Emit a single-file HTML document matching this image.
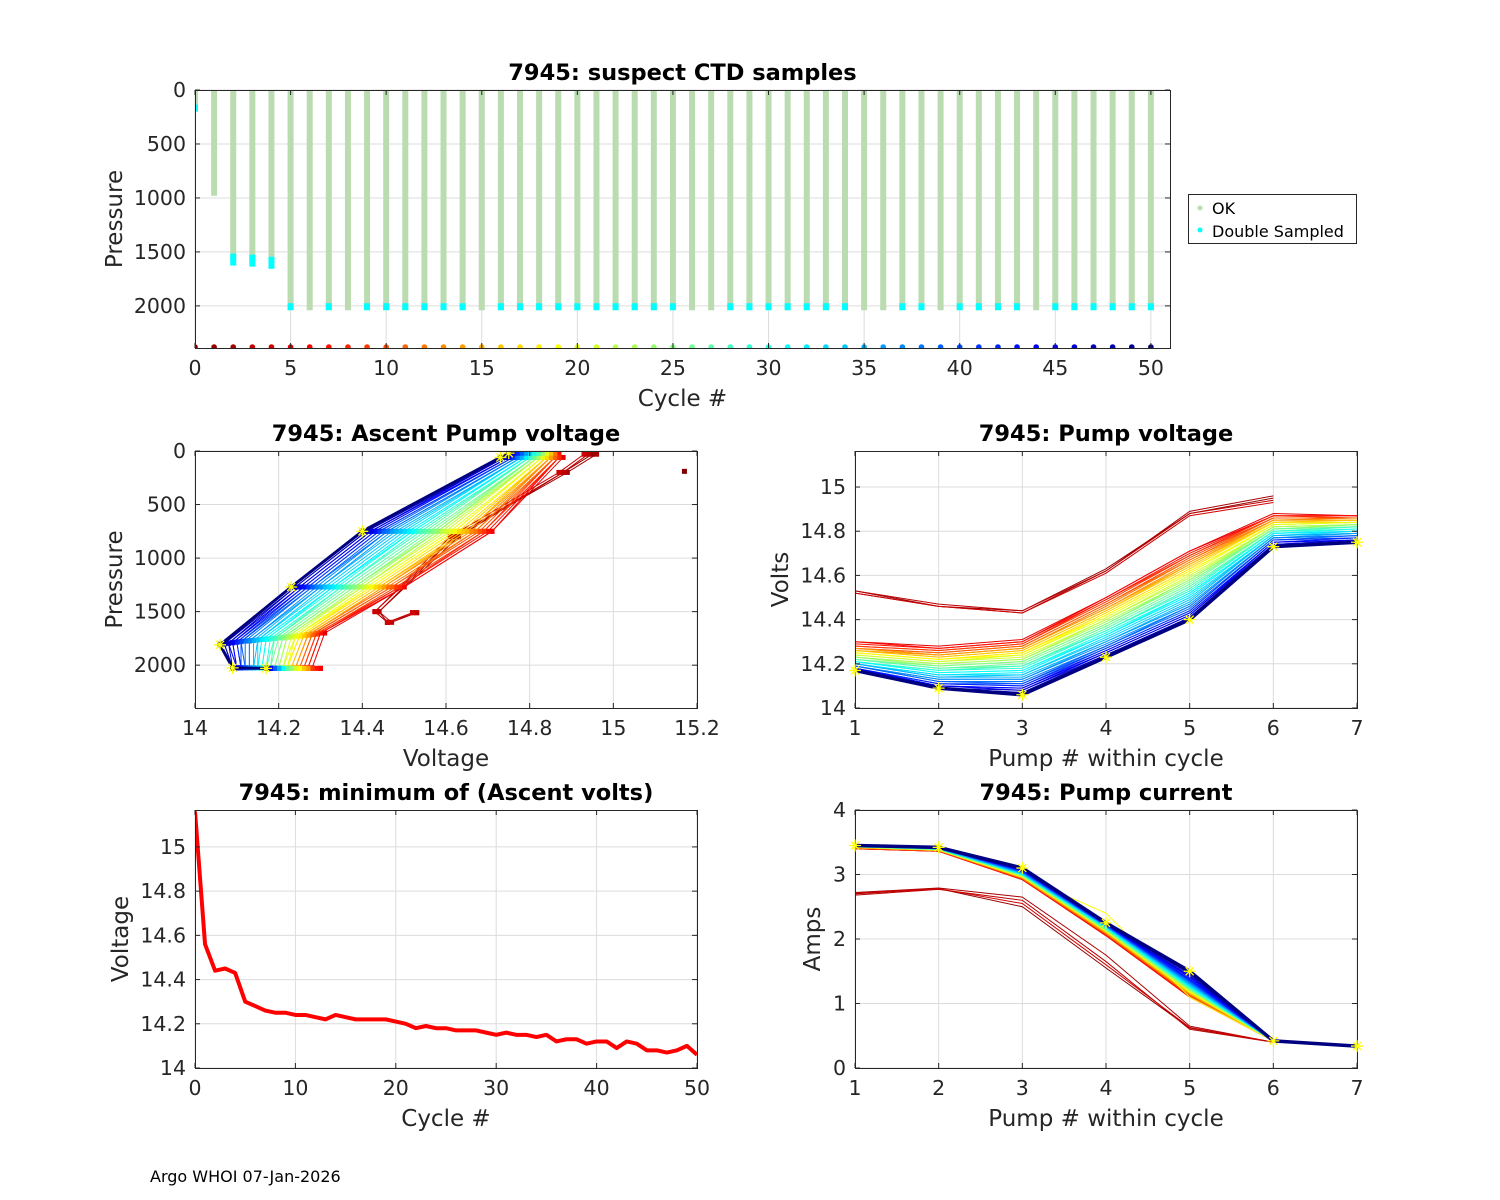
<!DOCTYPE html>
<html><head><meta charset="utf-8"><style>
body{margin:0;background:#fff;}
svg{display:block;font-family:"DejaVu Sans","Liberation Sans",sans-serif;}
</style></head><body>
<svg id="fig" width="1500" height="1200" viewBox="0 0 1500 1200"></svg>
<script>
const cycles=[];for(let i=0;i<=50;i++)cycles.push(i);
const maxPres=[200,980,1580,1590,1610,2040,2040,2040,2040,2040,2040,2040,2040,2040,2040,2040,2040,2040,2040,2040,2040,2040,2040,2040,2040,2040,2040,2040,2040,2040,2040,2040,2040,2040,2040,2040,2040,2040,2040,2040,2040,2040,2040,2040,2040,2040,2040,2040,2040,2040,2040];
const doubleSampled=[1,0,1,1,1,1,0,1,0,1,1,1,1,1,1,0,1,1,1,1,1,1,1,1,1,1,0,0,1,1,1,1,1,1,1,0,0,1,1,0,1,1,1,1,0,1,1,1,1,1,1];
const minVolt=[15.16,14.56,14.44,14.45,14.43,14.30,14.28,14.26,14.25,14.25,14.24,14.24,14.23,14.22,14.24,14.23,14.22,14.22,14.22,14.22,14.21,14.20,14.18,14.19,14.18,14.18,14.17,14.17,14.17,14.16,14.15,14.16,14.15,14.15,14.14,14.15,14.12,14.13,14.13,14.11,14.12,14.12,14.09,14.12,14.11,14.08,14.08,14.07,14.08,14.10,14.06];
const v1=[null,14.53,14.52,14.53,14.52,14.30,14.30,14.29,14.28,14.28,14.27,14.27,14.27,14.26,14.27,14.26,14.26,14.25,14.25,14.25,14.24,14.24,14.23,14.23,14.23,14.22,14.22,14.22,14.21,14.21,14.21,14.21,14.20,14.20,14.20,14.20,14.19,14.19,14.19,14.19,14.18,14.18,14.18,14.18,14.18,14.17,14.17,14.17,14.17,14.17,14.17];
const v2=[null,14.46,14.46,14.47,14.46,14.28,14.27,14.27,14.26,14.26,14.25,14.25,14.24,14.24,14.24,14.23,14.23,14.22,14.22,14.22,14.21,14.21,14.20,14.20,14.19,14.19,14.18,14.18,14.17,14.17,14.16,14.16,14.15,14.15,14.14,14.14,14.13,14.13,14.12,14.12,14.11,14.11,14.11,14.10,14.10,14.10,14.09,14.09,14.09,14.09,14.09];
const v3=[null,14.44,14.43,14.44,14.43,14.31,14.30,14.30,14.29,14.29,14.28,14.28,14.27,14.27,14.27,14.26,14.26,14.25,14.25,14.24,14.24,14.23,14.22,14.22,14.21,14.21,14.20,14.19,14.19,14.18,14.17,14.17,14.16,14.15,14.15,14.14,14.13,14.13,14.12,14.11,14.11,14.10,14.10,14.09,14.09,14.08,14.08,14.07,14.07,14.06,14.06];
const v4=[null,14.63,14.62,14.62,14.61,14.50,14.50,14.49,14.49,14.48,14.47,14.47,14.46,14.45,14.45,14.44,14.44,14.43,14.42,14.42,14.41,14.40,14.40,14.39,14.38,14.38,14.37,14.36,14.35,14.35,14.34,14.33,14.33,14.32,14.31,14.30,14.30,14.29,14.28,14.28,14.27,14.27,14.26,14.26,14.25,14.25,14.24,14.24,14.23,14.23,14.23];
const v5=[null,14.88,14.89,14.88,14.87,14.71,14.71,14.70,14.69,14.69,14.68,14.67,14.67,14.66,14.65,14.65,14.64,14.63,14.62,14.62,14.61,14.60,14.59,14.58,14.58,14.57,14.56,14.55,14.54,14.53,14.52,14.52,14.51,14.50,14.49,14.48,14.47,14.46,14.46,14.45,14.44,14.44,14.43,14.43,14.42,14.42,14.41,14.41,14.40,14.40,14.40];
const v6=[null,14.95,14.96,14.94,14.93,14.88,14.87,14.87,14.87,14.86,14.86,14.86,14.85,14.85,14.85,14.84,14.84,14.84,14.83,14.83,14.83,14.82,14.82,14.82,14.81,14.81,14.81,14.80,14.80,14.80,14.79,14.79,14.79,14.78,14.78,14.78,14.77,14.77,14.77,14.76,14.76,14.76,14.75,14.75,14.75,14.74,14.74,14.74,14.73,14.73,14.73];
const v7=[null,null,null,null,null,14.87,14.87,14.87,14.86,14.86,14.86,14.86,14.86,14.85,14.85,14.85,14.85,14.84,14.84,14.84,14.84,14.83,14.83,14.83,14.83,14.82,14.82,14.82,14.82,14.81,14.81,14.80,14.80,14.80,14.79,14.79,14.79,14.78,14.78,14.78,14.77,14.77,14.77,14.76,14.76,14.76,14.76,14.75,14.75,14.75,14.75];
const a1=[null,2.70,2.72,2.68,2.71,3.40,3.40,3.40,3.41,3.41,3.41,3.41,3.41,3.42,3.42,3.42,3.42,3.42,3.42,3.42,3.42,3.43,3.43,3.43,3.43,3.43,3.43,3.43,3.43,3.43,3.43,3.44,3.44,3.44,3.44,3.44,3.44,3.44,3.44,3.44,3.44,3.44,3.45,3.45,3.45,3.45,3.45,3.45,3.45,3.45,3.45];
const a2=[null,2.78,2.79,2.77,2.78,3.36,3.36,3.36,3.37,3.37,3.37,3.37,3.37,3.37,3.38,3.38,3.38,3.38,3.38,3.38,3.38,3.38,3.39,3.39,3.39,3.39,3.39,3.39,3.39,3.40,3.40,3.40,3.40,3.40,3.40,3.40,3.40,3.41,3.41,3.41,3.41,3.41,3.41,3.41,3.41,3.42,3.42,3.42,3.42,3.42,3.42];
const a3=[null,2.50,2.65,2.60,2.55,2.92,2.92,2.93,2.93,2.93,2.94,2.94,2.94,2.95,2.95,2.95,2.96,2.96,2.96,2.97,2.97,2.97,2.98,2.98,2.98,2.99,2.99,2.99,3.00,3.00,3.00,3.01,3.01,3.01,3.02,3.02,3.03,3.03,3.04,3.04,3.05,3.05,3.06,3.06,3.07,3.07,3.08,3.08,3.09,3.09,3.10];
const a4=[null,1.55,1.75,1.65,1.60,2.05,2.06,2.06,2.07,2.07,2.08,2.08,2.09,2.09,2.10,2.10,2.11,2.12,2.20,2.40,2.12,2.13,2.13,2.14,2.14,2.15,2.15,2.16,2.16,2.17,2.17,2.18,2.18,2.19,2.19,2.20,2.20,2.20,2.21,2.21,2.21,2.22,2.22,2.22,2.23,2.23,2.23,2.24,2.24,2.25,2.25];
const a5=[null,0.62,0.65,0.60,0.63,1.10,1.10,1.11,1.12,1.12,1.13,1.14,1.14,1.15,1.15,1.16,1.17,1.17,1.18,1.10,1.19,1.20,1.20,1.21,1.22,1.22,1.23,1.24,1.24,1.25,1.26,1.27,1.27,1.28,1.29,1.30,1.31,1.32,1.33,1.34,1.35,1.36,1.37,1.38,1.40,1.42,1.43,1.45,1.47,1.48,1.50];
const a6=[null,0.40,0.40,0.40,0.40,0.42,0.42,0.42,0.42,0.42,0.42,0.42,0.42,0.42,0.42,0.42,0.42,0.42,0.42,0.42,0.42,0.42,0.42,0.42,0.42,0.42,0.42,0.42,0.42,0.42,0.42,0.42,0.42,0.42,0.42,0.42,0.42,0.42,0.42,0.42,0.42,0.42,0.42,0.42,0.42,0.42,0.42,0.42,0.42,0.42,0.42];
const a7=[null,null,null,null,null,0.34,0.34,0.34,0.34,0.34,0.34,0.34,0.34,0.34,0.34,0.34,0.34,0.34,0.34,0.34,0.34,0.34,0.34,0.34,0.34,0.34,0.34,0.34,0.34,0.34,0.34,0.34,0.34,0.34,0.34,0.34,0.34,0.34,0.34,0.34,0.34,0.34,0.34,0.34,0.34,0.34,0.34,0.34,0.34,0.34,0.34];
const pumpPresLate=[2030,2025,1760,1270,750,60,20];
const pumpPresEarly=[1510,1600,1500,800,200,30,0];
const pres3=[null,1500,1500,1500,1500,1700,1700,1700,1705,1710,1710,1715,1715,1720,1720,1720,1725,1725,1730,1730,1730,1735,1735,1740,1740,1745,1745,1750,1750,1755,1755,1760,1760,1765,1765,1770,1770,1775,1775,1780,1780,1785,1785,1790,1790,1795,1795,1800,1800,1805,1810];
const cycle0Point=[15.17,190];
const topXTicks=[0,5,10,15,20,25,30,35,40,45,50];
const topYTicks=[0,500,1000,1500,2000];
const ascXTicks=[14,14.2,14.4,14.6,14.8,15,15.2];
const pumpXTicks=[1,2,3,4,5,6,7];
const voltYTicks=[14,14.2,14.4,14.6,14.8,15];
const minXTicks=[0,10,20,30,40,50];
const ampYTicks=[0,1,2,3,4];

const NS="http://www.w3.org/2000/svg";
const fig=document.getElementById('fig');
function el(tag,attrs,parent){const e=document.createElementNS(NS,tag);for(const k in attrs)e.setAttribute(k,attrs[k]);(parent||fig).appendChild(e);return e;}
function jet(c){const t=1-c/50;const f=v=>Math.max(0,Math.min(1,v));const r=f(1.5-Math.abs(4*t-3)),g=f(1.5-Math.abs(4*t-2)),b=f(1.5-Math.abs(4*t-1));return `rgb(${Math.round(r*255)},${Math.round(g*255)},${Math.round(b*255)})`;}
function fmt(v){return (Math.round(v*100)/100).toString();}
let clipId=0;
function axes(o){
 const g=el('g',{});
 
 
 const sx=v=>o.x0+(v-o.dx[0])/(o.dx[1]-o.dx[0])*(o.x1-o.x0);
 const sy=o.yrev?(v=>o.y0+(v-o.dy[0])/(o.dy[1]-o.dy[0])*(o.y1-o.y0)):(v=>o.y1-(v-o.dy[0])/(o.dy[1]-o.dy[0])*(o.y1-o.y0));
 el('rect',{x:o.x0,y:o.y0,width:o.x1-o.x0,height:o.y1-o.y0,fill:'#fff'},g);
 const grid=el('g',{stroke:'#dcdcdc','stroke-width':1},g);
 
 
 o.xt.forEach(v=>{const x=sx(v);el('line',{x1:x,x2:x,y1:o.y0,y2:o.y1},grid);});
 o.yt.forEach(v=>{const y=sy(v);el('line',{x1:o.x0,x2:o.x1,y1:y,y2:y},grid);});
 const cid='c'+(clipId++);
 const cp=el('clipPath',{id:cid},g);el('rect',{x:o.x0,y:o.y0,width:o.x1-o.x0,height:o.y1-o.y0},cp);
 const plot=el('g',{'clip-path':`url(#${cid})`},g);
 
 
 const front=el('g',{},g);
 const fr=el('rect',{x:o.x0+0.5,y:o.y0+0.5,width:o.x1-o.x0,height:o.y1-o.y0,fill:'none',stroke:'#262626','stroke-width':1},front);
 
 
 o.xt.forEach(v=>{const x=sx(v);el('line',{x1:x,x2:x,y1:o.y1,y2:o.y1-5,stroke:'#262626'},front);el('line',{x1:x,x2:x,y1:o.y0,y2:o.y0+5,stroke:'#262626'},front);
  const t=el('text',{x:x,y:o.y1+27,'text-anchor':'middle','font-size':20.5,fill:'#262626'},front);t.textContent=fmt(v);
  
  });
 o.yt.forEach(v=>{const y=sy(v);el('line',{x1:o.x0,x2:o.x0+5,y1:y,y2:y,stroke:'#262626'},front);el('line',{x1:o.x1,x2:o.x1-5,y1:y,y2:y,stroke:'#262626'},front);
  const t=el('text',{x:o.x0-9,y:y+7,'text-anchor':'end','font-size':20.5,fill:'#262626'},front);t.textContent=fmt(v);
  
  });
 const tt=el('text',{x:(o.x0+o.x1)/2,y:o.y0-10,'text-anchor':'middle','font-size':22.5,'font-weight':'bold',fill:'#000'},front);tt.textContent=o.title;
 
 
 const xl=el('text',{x:(o.x0+o.x1)/2,y:o.y1+58,'text-anchor':'middle','font-size':23,fill:'#262626'},front);xl.textContent=o.xlabel;
 
 
 const yx=o.ylx,yy=(o.y0+o.y1)/2;
 const yl=el('text',{x:yx,y:yy,'text-anchor':'middle','font-size':23,fill:'#262626',transform:`rotate(-90 ${yx} ${yy})`},front);yl.textContent=o.ylabel;
 
 
 return {sx,sy,plot,front};
}
function star(parent,x,y){const s=6;el('path',{d:`M${x-s} ${y}H${x+s}M${x} ${y-s}V${y+s}M${x-4} ${y-4}L${x+4} ${y+4}M${x-4} ${y+4}L${x+4} ${y-4}`,stroke:'#ffff00','stroke-width':1.3},parent);}

// TOP
const T=axes({name:'suspect-ctd-chart',x0:195,x1:1170,y0:90,y1:348,dx:[0,51],dy:[0,2390],yrev:true,xt:topXTicks,yt:topYTicks,title:'7945: suspect CTD samples',xlabel:'Cycle #',ylabel:'Pressure',ylx:122});
cycles.forEach(c=>{
 const x=T.sx(c);
 const b=el('line',{x1:x,x2:x,y1:T.sy(0),y2:T.sy(maxPres[c]),stroke:'#badcb0','stroke-width':6},T.plot);
 
 
 if(doubleSampled[c]){const d=el('rect',{x:x-3,y:T.sy(maxPres[c])-7,width:6,height:(c>=2&&c<=4)?12:7,fill:'#00ffff'},T.plot);
  
  }
 const p=el('circle',{cx:x,cy:T.sy(2390)-1,r:2.8,fill:jet(c)},T.plot);
 
 
});
// legend
const lg=el('g',{});


el('rect',{x:1188.5,y:194.5,width:168,height:49,fill:'#fff',stroke:'#262626'},lg);
el('circle',{cx:1200,cy:208,r:2.5,fill:'#badcb0'},lg);
el('circle',{cx:1200,cy:230,r:2.5,fill:'#00ffff'},lg);
let lt=el('text',{x:1212,y:214,'font-size':16,fill:'#000'},lg);lt.textContent='OK';


lt=el('text',{x:1212,y:237,'font-size':16,fill:'#000'},lg);lt.textContent='Double Sampled';



// ASCENT
const A=axes({name:'ascent-pump-voltage-chart',x0:195,x1:697,y0:451,y1:708,dx:[14,15.2],dy:[0,2400],yrev:true,xt:ascXTicks,yt:topYTicks,title:'7945: Ascent Pump voltage',xlabel:'Voltage',ylabel:'Pressure',ylx:122});
const VS=[v1,v2,v3,v4,v5,v6,v7];
const AS=[a1,a2,a3,a4,a5,a6,a7];
cycles.forEach(c=>{
 if(c===0)return;
 const pr=c<5?pumpPresEarly:pumpPresLate;
 const pts=[];
 for(let k=0;k<7;k++){const v=VS[k][c];if(v==null)continue;let p=pr[k];if(k===2)p=pres3[c];pts.push([A.sx(v),A.sy(p)]);}
 const l=el('polyline',{points:pts.map(p=>p.join(',')).join(' '),fill:'none',stroke:jet(c),'stroke-width':c===50?3:1},A.plot);
 
 
 pts.forEach(p=>el('rect',{x:p[0]-2.5,y:p[1]-2.5,width:5,height:5,fill:jet(c)},A.plot));
 if(c===50)pts.forEach(p=>star(A.plot,p[0],p[1]));
});
el('rect',{x:A.sx(cycle0Point[0])-2.5,y:A.sy(cycle0Point[1])-2.5,width:5,height:5,fill:jet(0)},A.plot);

// PUMP VOLTAGE
const P=axes({name:'pump-voltage-chart',x0:855,x1:1357,y0:451,y1:708,dx:[1,7],dy:[14,15.163],yrev:false,xt:pumpXTicks,yt:voltYTicks,title:'7945: Pump voltage',xlabel:'Pump # within cycle',ylabel:'Volts',ylx:788});
// CURRENT
const C=axes({name:'pump-current-chart',x0:855,x1:1357,y0:810,y1:1068,dx:[1,7],dy:[0,4],yrev:false,xt:pumpXTicks,yt:ampYTicks,title:'7945: Pump current',xlabel:'Pump # within cycle',ylabel:'Amps',ylx:820});
[[P,VS,'pump-voltage-line'],[C,AS,'pump-current-line']].forEach(([ax,S,nm])=>{
 cycles.forEach(c=>{
  const pts=[];
  for(let k=0;k<7;k++){const v=S[k][c];if(v==null)continue;pts.push([ax.sx(k+1),ax.sy(v)]);}
  if(!pts.length)return;
  const l=el('polyline',{points:pts.map(p=>p.join(',')).join(' '),fill:'none',stroke:jet(c),'stroke-width':c===50?3.5:1},ax.plot);
  
  
  if(c===50)pts.forEach(p=>star(ax.front,p[0],p[1]));
 });
});

// MIN VOLT
const M=axes({name:'minimum-ascent-volts-chart',x0:195,x1:697,y0:810,y1:1068,dx:[0,50],dy:[14,15.167],yrev:false,xt:minXTicks,yt:voltYTicks,title:'7945: minimum of (Ascent volts)',xlabel:'Cycle #',ylabel:'Voltage',ylx:128});
const ml=el('polyline',{points:cycles.map(c=>M.sx(c)+','+M.sy(minVolt[c])).join(' '),fill:'none',stroke:'#ff0000','stroke-width':4,'stroke-linejoin':'round'},M.plot);



const ft=el('text',{x:150,y:1182,'font-size':16,fill:'#000'});ft.textContent='Argo WHOI 07-Jan-2026';


</script>
</body></html>
